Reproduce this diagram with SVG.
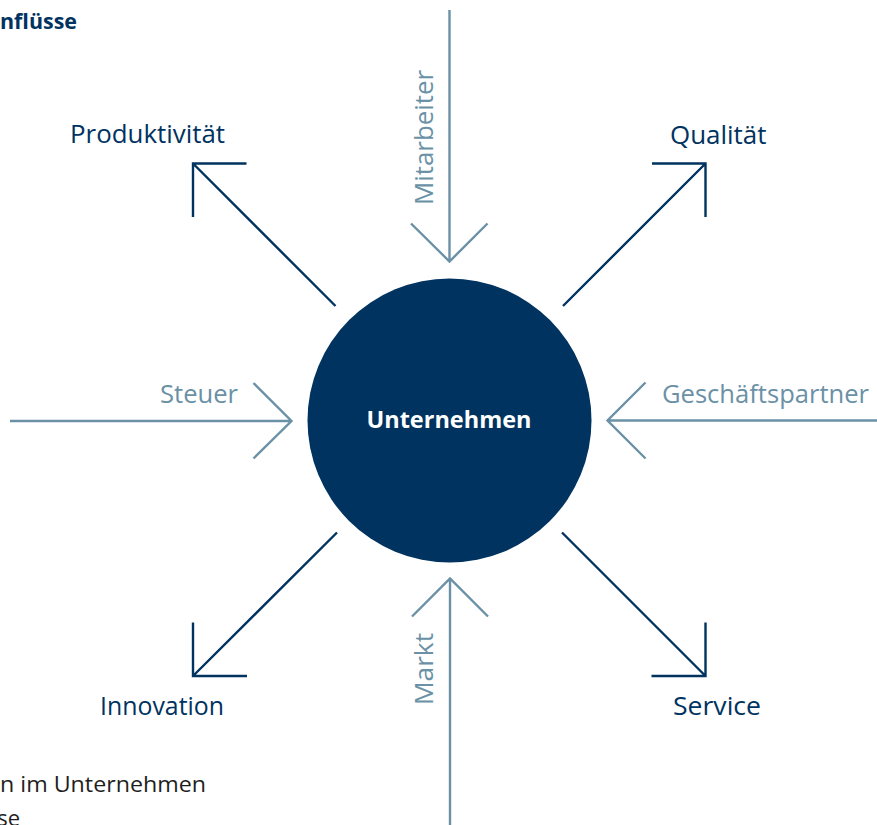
<svg xmlns="http://www.w3.org/2000/svg" width="877" height="825" viewBox="0 0 877 825">
<style>
.dk{stroke:#00335f;stroke-width:2.4;fill:none;stroke-linecap:butt}
.lt{stroke:#6a91a6;stroke-width:2.4;fill:none}
.ld{font-family:"Open Sans","Liberation Sans",sans-serif;font-size:25px;fill:#00335f}
.ll{font-family:"Open Sans","Liberation Sans",sans-serif;font-size:25px;fill:#6a91a6}
.cap{font-family:"Open Sans","Liberation Sans",sans-serif;font-size:22px;fill:#1e1e1e}
</style>
<rect width="877" height="825" fill="#ffffff"/>
<text x="77" y="29" text-anchor="end" font-family="Open Sans, Liberation Sans, sans-serif" font-size="22" font-weight="bold" fill="#00335f" textLength="77" lengthAdjust="spacingAndGlyphs">nflüsse</text>
<text class="cap" x="206" y="792" text-anchor="end" textLength="206" lengthAdjust="spacingAndGlyphs">n im Unternehmen</text>
<text class="cap" x="20" y="826" text-anchor="end">se</text>
<g id="connectors">
  <path class="dk" d="M335.5,306 L193,163.5 M246.5,163.5 H193 V217"/>
  <path class="dk" d="M563,306 L705.5,163.5 M652,163.5 H705.5 V217"/>
  <path class="dk" d="M337,532.5 L193,676 M193,622.5 V676 H247"/>
  <path class="dk" d="M562,532.5 L705.5,676 M705.5,622.5 V676 H651.5"/>
  <path class="lt" d="M449.5,10 V261.5 M411,223.5 L449.5,261.5 L487.5,223.5"/>
  <path class="lt" d="M450,825 V578.5 M412,616.5 L450,578.5 L488,616.5"/>
  <path class="lt" d="M10,421 H291.5 M253.5,383 L291.5,421 L253.5,458.5"/>
  <path class="lt" d="M877,420.5 H607.5 M645.5,382.5 L607.5,420.5 L645.5,458.5"/>
</g>
<g id="unternehmen">
  <circle cx="449.5" cy="420.5" r="142" fill="#00335f"/>
  <text x="449" y="428" text-anchor="middle" font-family="Open Sans, Liberation Sans, sans-serif" font-size="23" font-weight="bold" fill="#ffffff" textLength="165" lengthAdjust="spacingAndGlyphs">Unternehmen</text>
</g>
<g id="produktivitaet"><text class="ld" x="70" y="143" textLength="155" lengthAdjust="spacingAndGlyphs">Produktivität</text></g>
<g id="qualitaet"><text class="ld" x="670" y="144" textLength="96.5" lengthAdjust="spacingAndGlyphs">Qualität</text></g>
<g id="innovation"><text class="ld" x="100" y="715" textLength="124" lengthAdjust="spacingAndGlyphs">Innovation</text></g>
<g id="service"><text class="ld" x="673" y="715" textLength="88" lengthAdjust="spacingAndGlyphs">Service</text></g>
<g id="mitarbeiter"><text class="ll" transform="translate(433,137.5) rotate(-90)" x="0" y="0" text-anchor="middle" textLength="135" lengthAdjust="spacingAndGlyphs">Mitarbeiter</text></g>
<g id="markt"><text class="ll" transform="translate(433,669) rotate(-90)" x="0" y="0" text-anchor="middle" textLength="72" lengthAdjust="spacingAndGlyphs">Markt</text></g>
<g id="steuer"><text class="ll" x="160" y="403" textLength="78" lengthAdjust="spacingAndGlyphs">Steuer</text></g>
<g id="geschaeftspartner"><text class="ll" x="662" y="403" textLength="207" lengthAdjust="spacingAndGlyphs">Geschäftspartner</text></g>
</svg>
